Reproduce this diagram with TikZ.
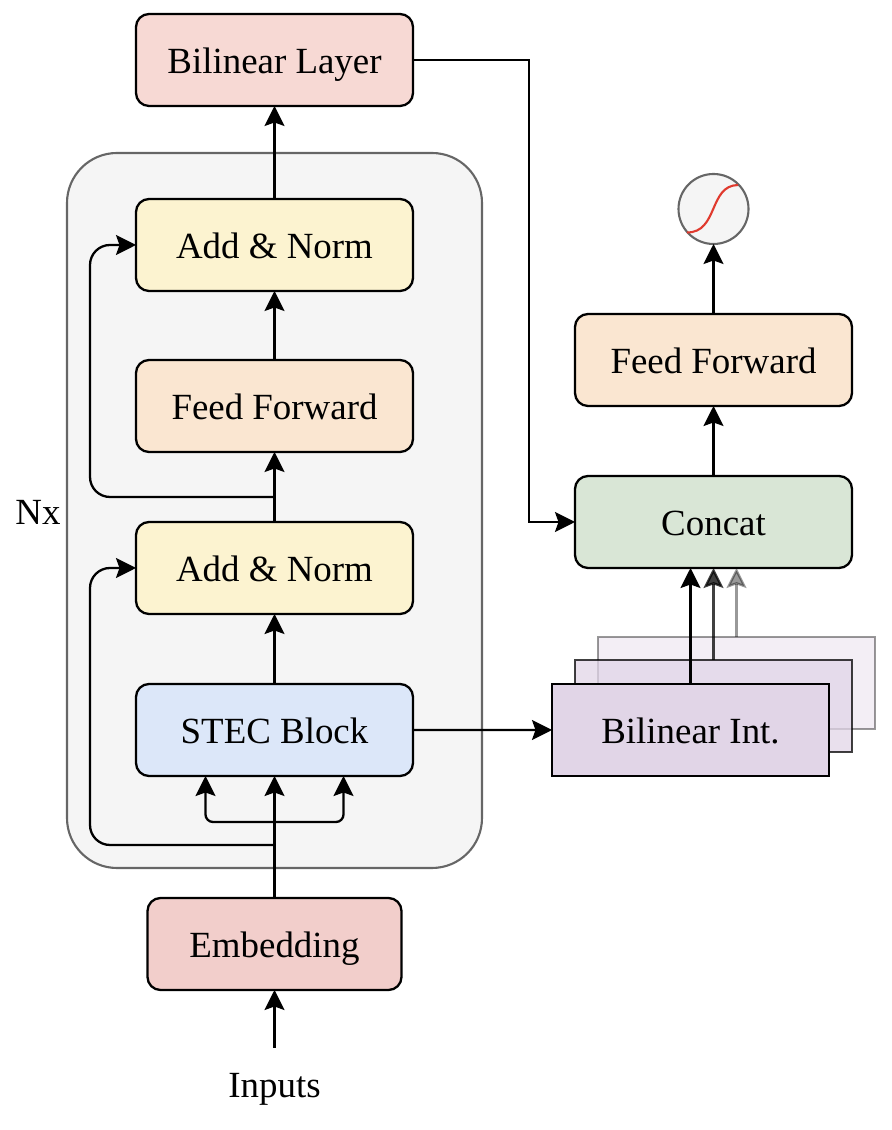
\documentclass[tikz,border=0pt]{standalone}
\usepackage{fontspec}
\setmainfont{Liberation Serif}
\usepackage{xcolor}
\usetikzlibrary{arrows.meta, positioning, fit, backgrounds, calc}

\definecolor{layerred}{HTML}{F7D9D4}
\definecolor{embedred}{HTML}{F2CECB}
\definecolor{normyellow}{HTML}{FCF3D0}
\definecolor{ffpeach}{HTML}{FAE6D1}
\definecolor{stecblue}{HTML}{DCE7F9}
\definecolor{concatgreen}{HTML}{D9E6D6}
\definecolor{intpurple}{HTML}{E1D5E7}
\definecolor{groupgray}{HTML}{F5F5F5}
\definecolor{groupline}{HTML}{666666}
\definecolor{curvered}{HTML}{E03A2E}

\begin{document}
\begin{tikzpicture}[
    box/.style={draw, rectangle, rounded corners=.26cm, line width=1.3pt, outer sep=0pt, minimum width=5.54cm, minimum height=1.84cm, align=center, text height=15pt, text depth=0pt, font=\fontsize{21}{25}\selectfont},
    intbox/.style={draw, rectangle, line width=1.3pt, outer sep=0pt, fill=intpurple, minimum width=5.54cm, minimum height=1.84cm, align=center, text height=15pt, text depth=0pt, font=\fontsize{21}{25}\selectfont},
    label/.style={font=\fontsize{21}{25}\selectfont},
    arrow/.style={line width=1.3pt,-{Stealth[length=.4cm,width=.4cm,inset=.07cm]}}
]
\useasboundingbox (0,0) rectangle (17.84,22.6);

% Nodes
\node (layer) [box, fill=layerred] at (5.49,21.4) {Bilinear Layer};
\node (addnormb) [box, fill=normyellow, below=1.86cm of layer] {Add \& Norm};
\node (ffleft) [box, fill=ffpeach, below=1.38cm of addnormb] {Feed Forward};
\node (addnorma) [box, fill=normyellow, below=1.4cm of ffleft] {Add \& Norm};
\node (stec) [box, fill=stecblue, below=1.4cm of addnorma] {STEC Block};
\node (embed) [box, fill=embedred, minimum width=5.08cm, below=2.44cm of stec] {Embedding};
\node (inputs) [label, minimum height=1.66cm, inner sep=0pt, outer sep=0pt, below=1.16cm of embed] {Inputs};

\node (ffright) [box, fill=ffpeach] at (14.27,15.4) {Feed Forward};
\node (concat) [box, fill=concatgreen, below=1.4cm of ffright] {Concat};
\node (sigmoid) [circle, draw=groupline, fill=groupgray, line width=1.2pt, outer sep=0pt, minimum size=1.4cm, above=1.4cm of ffright] {};

% Stacked interpolation boxes
\node (intc) [intbox, opacity=.4, below=1.38cm of concat, xshift=.46cm] {};
\node (intb) [intbox, opacity=.75, xshift=-.46cm, yshift=-.46cm] at (intc) {};
\node (inta) [intbox, xshift=-.46cm, yshift=-.48cm] at (intb) {Bilinear Int.};

% Background box for grouping
\begin{scope}[on background layer]
    \node (group) [draw=groupline, fill=groupgray, line width=1.2pt, rounded corners=1cm, minimum width=8.3cm, minimum height=14.3cm] at (5.49,12.39) {};
\end{scope}
\node (nx) [label] at (.76,12.36) {Nx};

% Branch points
\coordinate (brancha) at ($(embed.north)+(0,1.06)$);
\coordinate (branchb) at ($(stec.south)+(0,-.92)$);
\coordinate (branchc) at ($(ffleft.south)+(0,-.9)$);
\coordinate (steca) at ($(stec.south)+(-1.38,0)$);
\coordinate (stecb) at ($(stec.south)+(1.38,0)$);

% Edges
\draw [arrow] (inputs.north) -- (embed.south);
\draw [arrow] (embed.north) -- (stec.south);
\draw [arrow] (stec.north) -- (addnorma.south);
\draw [arrow] (addnorma.north) -- (ffleft.south);
\draw [arrow] (ffleft.north) -- (addnormb.south);
\draw [arrow] (addnormb.north) -- (layer.south);
\draw [arrow, rounded corners=.4cm] (brancha) -| ($(addnorma.west)+(-.92,0)$) -- (addnorma.west);
\draw [arrow, rounded corners=.4cm] (branchc) -| ($(addnormb.west)+(-.92,0)$) -- (addnormb.west);
\draw [arrow, rounded corners=.15cm] (branchb) -| (steca);
\draw [arrow, rounded corners=.15cm] (branchb) -| (stecb);
\draw [arrow] (stec.east) -- (inta.west);
\draw [arrow] (layer.east) -| ($(concat.west)+(-.92,0)$) -- (concat.west);
\draw [arrow] (inta.north) -- (inta.north |- concat.south);
\draw [arrow, opacity=.75] (intb.north) -- (intb.north |- concat.south);
\draw [arrow, opacity=.4] (intc.north) -- (intc.north |- concat.south);
\draw [arrow] (concat.north) -- (ffright.south);
\draw [arrow] (ffright.north) -- (sigmoid.south);

% Curve inside the circle
\draw [curvered, line width=1.2pt] ($(sigmoid)+(-.53,-.47)$) .. controls ($(sigmoid)+(.1,-.47)$) and ($(sigmoid)+(-.1,.47)$) .. ($(sigmoid)+(.49,.48)$);

\end{tikzpicture}
\end{document}
